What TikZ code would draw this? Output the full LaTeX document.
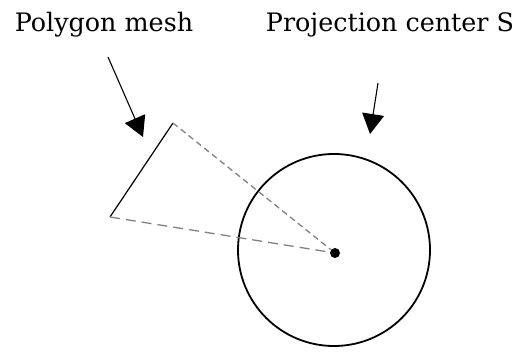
\documentclass[tikz,border=0pt]{standalone}
\usepackage{fontspec}
\setmainfont{DejaVu Serif}
\usepackage{tikz}
\usetikzlibrary{positioning, arrows.meta}
\definecolor{rayline}{rgb}{0.5,0.5,0.5}

\begin{document}
\begin{tikzpicture}[
  x=0.5pt, y=-0.5pt,
  label/.style={font=\fontsize{12.7}{15}\selectfont, inner sep=0pt},
  ray/.style={draw=rayline, line width=0.65pt},
  arr/.style={-{Triangle[length=10pt, width=11pt]}, line width=0.55pt}
]
\useasboundingbox (0,0) rectangle (528,352);
\node[label] (meshlbl) at (104,25) {Polygon mesh};
\node[label] (projlbl) at (390,25) {Projection center S};

\coordinate (vtop) at (173,123);
\coordinate (vbot) at (110,217);
\node[circle, fill, inner sep=0pt, minimum size=5pt] (S) at (335,253) {};
\node[circle, draw, line width=0.9pt, minimum size=96pt, inner sep=0pt] (sphere) at (334,250) {};

\coordinate (meshfrom) at (108,57);
\coordinate (meshto) at (143,137);
\coordinate (projfrom) at (378,83);
\coordinate (projto) at (370,134);

\draw[line width=0.6pt] (vtop) -- (vbot);
\draw[ray, dash pattern=on 3pt off 2pt] (vtop) -- (S);
\draw[ray, dash pattern=on 5pt off 3pt] (vbot) -- (S);
\draw[arr] (meshfrom) -- (meshto);
\draw[arr] (projfrom) -- (projto);
\end{tikzpicture}
\end{document}
